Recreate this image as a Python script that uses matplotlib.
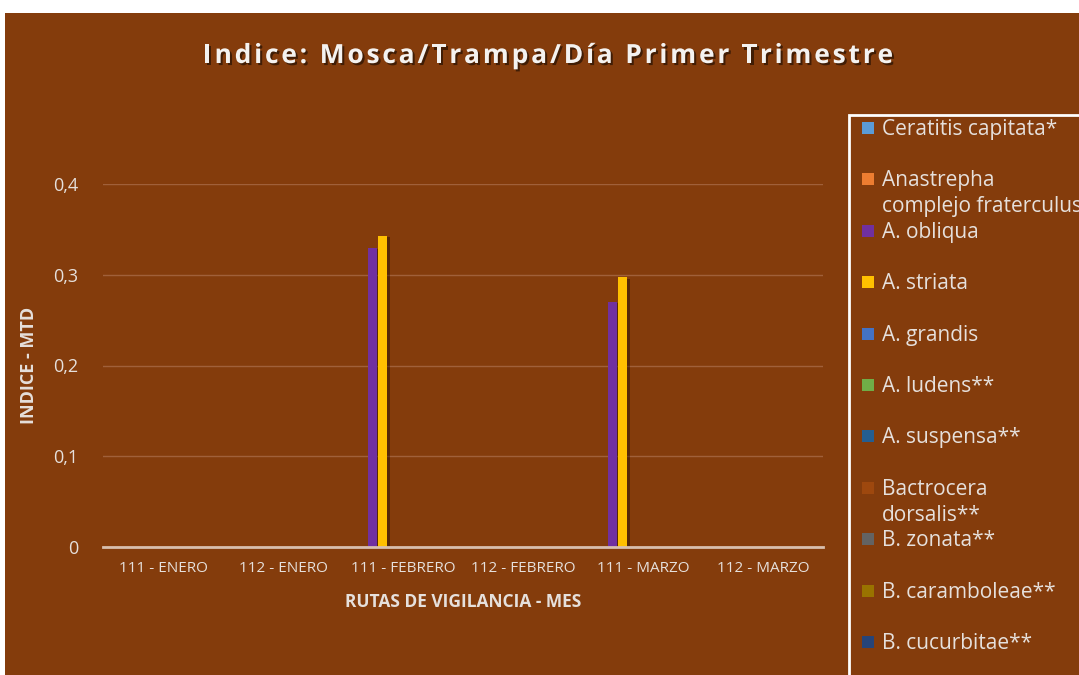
import numpy as np
import matplotlib.pyplot as plt
import matplotlib.patheffects as pe
from matplotlib.patches import Rectangle
from matplotlib.font_manager import FontProperties

# datos
rutas = ["111 - ENERO", "112 - ENERO", "111 - FEBRERO", "112 - FEBRERO", "111 - MARZO", "112 - MARZO"]
especies = ["Ceratitis capitata*", "Anastrepha\ncomplejo fraterculus", "A. obliqua", "A. striata",
            "A. grandis", "A. ludens**", "A. suspensa**", "Bactrocera\ndorsalis**", "B. zonata**",
            "B. caramboleae**", "B. cucurbitae**"]
colores = ["#5B9BD5", "#ED7D31", "#7030A0", "#FFC000", "#4472C4", "#70AD47", "#255E91",
           "#9E480E", "#636363", "#997300", "#264478"]
ceratitis = [0, 0, 0, 0, 0, 0]
fraterculus = [0, 0, 0, 0, 0, 0]
obliqua = [0, 0, 0.33, 0, 0.27, 0]
striata = [0, 0, 0.343, 0, 0.297, 0]
grandis = [0, 0, 0, 0, 0, 0]
ludens = [0, 0, 0, 0, 0, 0]
suspensa = [0, 0, 0, 0, 0, 0]
dorsalis = [0, 0, 0, 0, 0, 0]
zonata = [0, 0, 0, 0, 0, 0]
caramboleae = [0, 0, 0, 0, 0, 0]
cucurbitae = [0, 0, 0, 0, 0, 0]
valores = [ceratitis, fraterculus, obliqua, striata, grandis, ludens, suspensa,
           dorsalis, zonata, caramboleae, cucurbitae]
titulo = "Indice: Mosca/Trampa/Día Primer Trimestre"

fondo = "#843C0C"
texto = "#E6E0DC"
plt.rcParams['font.family'] = ['Open Sans', 'DejaVu Sans']

fig = plt.figure(figsize=(10.79, 6.75), dpi=100, facecolor="white")
fig.patches.append(Rectangle((5/1079, 0), 1, 1 - 13/675, transform=fig.transFigure,
                             facecolor=fondo, edgecolor="none", zorder=-10))

ax = fig.add_axes([103/1079, 1 - 547/675, 720/1079, (547 - 184)/675])
ax.set_facecolor(fondo)
ax.patch.set_alpha(0)

x = np.arange(len(rutas))
paso = 0.085
for i, (vals, c) in enumerate(zip(valores, colores)):
    b = ax.bar(x + (i - 5) * paso, vals, width=0.075, color=c, zorder=3)
    for p in b:
        p.set_path_effects([pe.SimplePatchShadow(offset=(2, -1), shadow_rgbFace="black", alpha=0.35), pe.Normal()])

ax.set_xlim(-0.5, len(rutas) - 0.5)
ax.set_ylim(0, 0.4)
ax.set_yticks([0, 0.1, 0.2, 0.3, 0.4])
ax.set_yticklabels(["0", "0,1", "0,2", "0,3", "0,4"])
ax.set_xticks(x)
ax.set_xticklabels(rutas)
ax.tick_params(axis="y", length=0, pad=18, labelsize=13, labelcolor=texto)
ax.tick_params(axis="x", length=0, pad=10, labelsize=11, labelcolor=texto)
ax.grid(axis="y", color="#A0603A", linewidth=1, zorder=0)
for s in ["top", "right", "left"]:
    ax.spines[s].set_visible(False)
ax.spines["bottom"].set_color("#D8BFAE")
ax.spines["bottom"].set_linewidth(2)
ax.spines["bottom"].set_zorder(4)

ax.set_xlabel("RUTAS DE VIGILANCIA - MES", fontsize=12.5, fontweight="bold", color=texto, labelpad=12)
fig.text(29/1079, 1 - 365/675, "INDICE - MTD", rotation=90, ha="center", va="center",
         fontsize=13, fontweight="bold", color=texto)

# titulo con espaciado entre letras (se coloca letra por letra)
fp = FontProperties(family="Open Sans", weight="bold", size=19)
rend = fig.canvas.get_renderer()
def ancho(s):
    return rend.get_text_width_height_descent(s, fp, ismath=False)[0]
base = ancho("HH")
anchos = [ancho("H" + ch + "H") - base for ch in titulo]
total_px = 690
track = (total_px - sum(anchos)) / (len(titulo) - 1)
xpos = 548 - total_px / 2
sombra = [pe.withSimplePatchShadow(offset=(1.5, -1.5), shadow_rgbFace="black", alpha=0.5)]
for ch, w in zip(titulo, anchos):
    if ch != " ":
        fig.text(xpos / 1079, 1 - 63 / 675, ch, ha="left", va="baseline", fontproperties=fp,
                 color="#F4F2F0", path_effects=sombra)
    xpos += w + track

# leyenda
fig.patches.append(Rectangle((849/1079, -0.05), 0.3, 1 - 115/675 + 0.05, transform=fig.transFigure,
                             facecolor="none", edgecolor="white", linewidth=2))
for k, (nombre, c) in enumerate(zip(especies, colores)):
    yk = 128 + k * 51.4
    fig.patches.append(Rectangle((862/1079, 1 - (yk + 6)/675), 12/1079, 12/675,
                                 transform=fig.transFigure, facecolor=c, edgecolor="none"))
    for j, linea in enumerate(nombre.split("\n")):
        fig.text(882/1079, 1 - (yk + 7 + j * 26)/675, linea, ha="left", va="baseline",
                 fontsize=15, color=texto)

fig.savefig("out.png", dpi=100, facecolor=fig.get_facecolor())
